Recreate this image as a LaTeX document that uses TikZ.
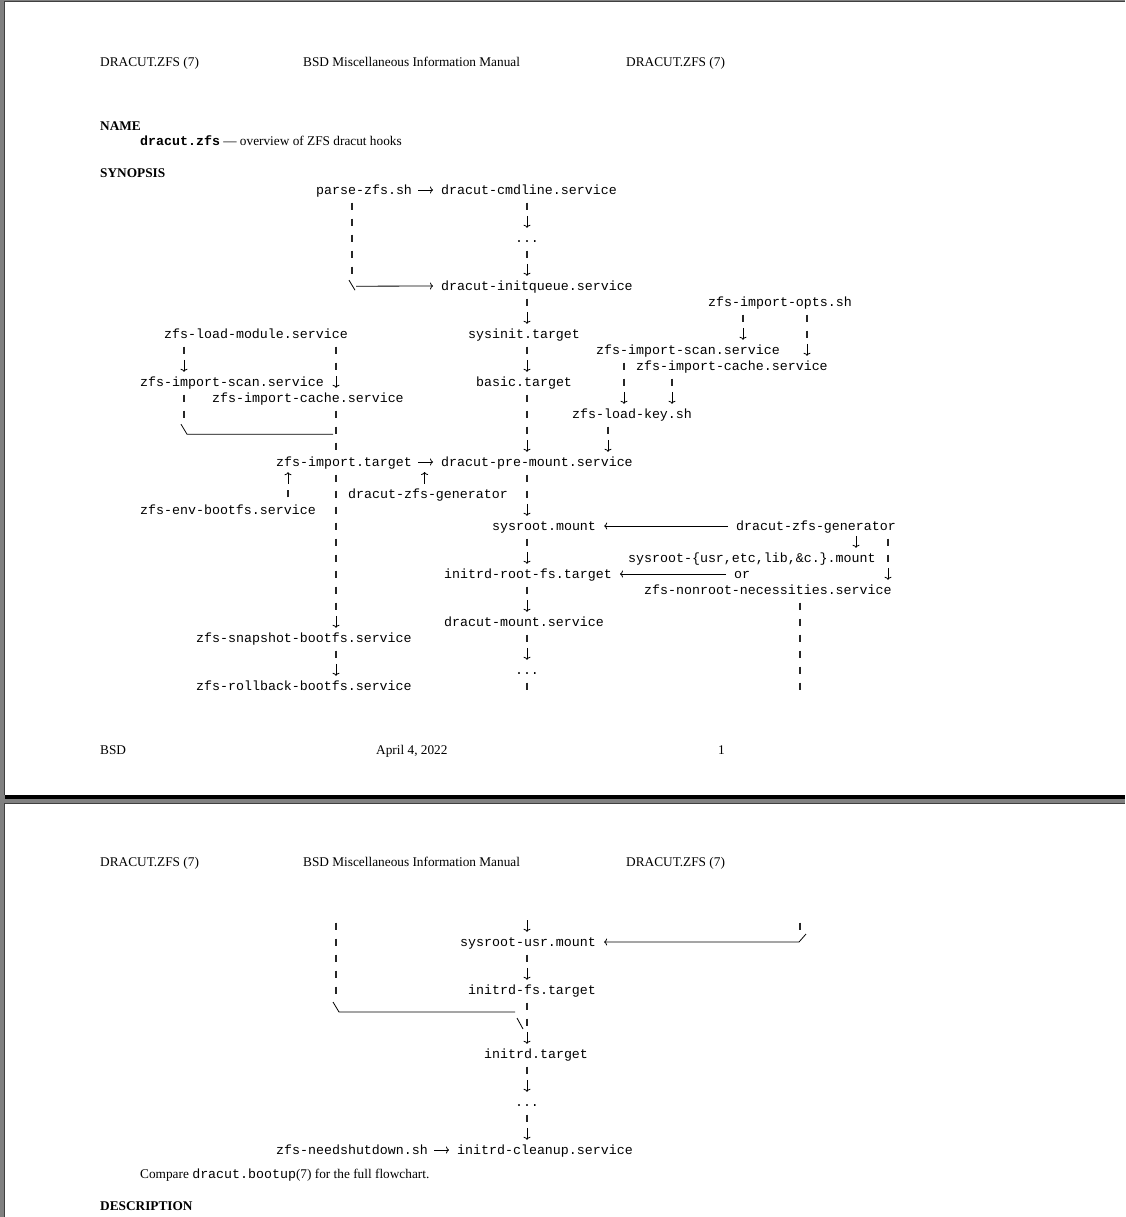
\documentclass[tikz,border=0pt]{standalone}
\usepackage{fontspec}
\setmainfont{Liberation Serif}
\setmonofont{Liberation Mono}
\usetikzlibrary{arrows.meta,calc}

\newcommand\monof{\fontsize{13.3}{16}\selectfont\ttfamily}
\newcommand\serf{\fontsize{13.3}{16}\selectfont}
%% bars down a column, then the arrow into the next label
\newcommand\vlink[3]{%
  \draw[bars] (#2.south -| #1) -- ($(#3.north -| #1)+(0,-16)$);
  \draw[gtip] ($(#3.north -| #1)+(0,-14)$) -- ($(#3.north -| #1)+(0,-2)$);}
\newcommand\vbar[3]{\draw[bars] (#2.south -| #1) -- (#3.north -| #1);}
\newcommand\uplink[3]{%
  \draw[bars] (#2.north -| #1) -- ($(#3.south -| #1)+(0,16)$);
  \draw[gtip] ($(#3.south -| #1)+(0,14)$) -- ($(#3.south -| #1)+(0,2)$);}

\begin{document}
\begin{tikzpicture}[x=1pt,y=-1pt,line cap=butt,
    lbl/.style={font=\monof,inner sep=0pt,text height=12pt,text depth=4pt,anchor=west},
    txt/.style={font=\serf,inner sep=0pt,anchor=base west},
    bars/.style={line width=1.1pt,black!85,dash pattern=on 7pt off 9pt,dash phase=11.5pt},
    gtip/.style={line width=0.8pt,-{Computer Modern Rightarrow[length=3pt,width=7pt]}},
    harrow/.style={gtip,shorten >=8pt},
    glyph/.style={line width=0.8pt}]
  \useasboundingbox (0,0) rectangle (1125,1217);
  %% the two pages
  \fill[black!50] (0,0) rectangle (1125,1217);
  \fill[black!75] (4,1) rectangle (1125,795);
  \fill[white] (5,2) rectangle (1125,795);
  \fill[black] (5,795) rectangle (1125,799);
  \fill[black!75] (4,803) rectangle (1125,1217);
  \fill[white] (5,804) rectangle (1125,1217);

  %% head and foot of page 1
  \node[txt] (hdrL) at (100,66.5) {DRACUT.ZFS (7)};
  \node[txt] (hdrC) at (303,66.5) {BSD Miscellaneous Information Manual};
  \node[txt] (hdrR) at (626,66.5) {DRACUT.ZFS (7)};
  \node[txt,font=\serf\bfseries] (name) at (100,130.5) {NAME};
  \node[txt] (namedesc) at (140,146) {{\ttfamily\bfseries dracut.zfs} — overview of ZFS dracut hooks};
  \node[txt,font=\serf\bfseries] (synop) at (100,177.5) {SYNOPSIS};
  \node[txt] (footL) at (100,754.5) {BSD};
  \node[txt] (footC) at (376,754.5) {April 4, 2022};
  \node[txt] (footR) at (718,754.5) {1};

  %% columns
  \coordinate (cM) at (527,0);
  \coordinate (cP) at (352,0);
  \coordinate (cL) at (184,0);
  \coordinate (cJ) at (336,0);
  \coordinate (cE) at (288,0);
  \coordinate (cOa) at (743,0);
  \coordinate (cOb) at (807,0);
  \coordinate (cS) at (624,0);
  \coordinate (cC) at (672,0);
  \coordinate (cK) at (608,0);
  \coordinate (cDa) at (856,0);
  \coordinate (cDb) at (888,0);
  \coordinate (cN) at (800,0);

  %% labels, page 1
  \node[lbl] (parse) at (316,190) {parse-zfs.sh};
  \node[lbl] (cmdline) at (441,190) {dracut-cmdline.service};
  \node[lbl,anchor=center] (dotsA) at (527,238) {...};
  \node[lbl] (initq) at (441,286) {dracut-initqueue.service};
  \node[lbl] (opts) at (708,302) {zfs-import-opts.sh};
  \node[lbl] (loadmod) at (164,334) {zfs-load-module.service};
  \node[lbl] (sysinit) at (468,334) {sysinit.target};
  \node[lbl] (scanR) at (596,350) {zfs-import-scan.service};
  \node[lbl] (cacheR) at (636,366) {zfs-import-cache.service};
  \node[lbl] (scanL) at (140,382) {zfs-import-scan.service};
  \node[lbl] (basic) at (476,382) {basic.target};
  \node[lbl] (cacheL) at (212,398) {zfs-import-cache.service};
  \node[lbl] (loadkey) at (572,414) {zfs-load-key.sh};
  \node[lbl] (zimport) at (276,462) {zfs-import.target};
  \node[lbl] (premount) at (441,462) {dracut-pre-mount.service};
  \node[lbl] (genL) at (348,494) {dracut-zfs-generator};
  \node[lbl] (envboot) at (140,510) {zfs-env-bootfs.service};
  \node[lbl] (sysroot) at (492,526) {sysroot.mount};
  \node[lbl] (genR) at (736,526) {dracut-zfs-generator};
  \node[lbl] (sysrootX) at (628,558) {sysroot-\{usr,etc,lib,\&c.\}.mount};
  \node[lbl] (rootfs) at (444,574) {initrd-root-fs.target};
  \node[lbl] (orw) at (734,574) {or};
  \node[lbl] (nonroot) at (644,590) {zfs-nonroot-necessities.service};
  \node[lbl] (dmount) at (444,622) {dracut-mount.service};
  \node[lbl] (snap) at (196,638) {zfs-snapshot-bootfs.service};
  \node[lbl,anchor=center] (dotsB) at (527,670) {...};
  \node[lbl] (rollback) at (196,686) {zfs-rollback-bootfs.service};

  %% main column
  \draw[harrow,shorten <=6pt] (parse.east) -- (cmdline.west);
  \vlink{cM}{cmdline}{dotsA}
  \vlink{cM}{dotsA}{initq}
  \vlink{cM}{initq}{sysinit}
  \vlink{cM}{sysinit}{basic}
  \vlink{cM}{basic}{premount}
  \vlink{cM}{premount}{sysroot}
  \vlink{cM}{sysroot}{rootfs}
  \vlink{cM}{rootfs}{dmount}
  \vlink{cM}{dmount}{dotsB}
  \draw[bars] (dotsB.south -| cM) -- ++(0,16);
  %% parse-zfs.sh down to the initqueue
  \draw[bars] (parse.south -| cP) -- ++(0,80);
  \draw[glyph] ($(parse.south -| cP)+(-3,82)$) -- ++(6,10);
  \draw[harrow] ($(parse.south -| cP)+(4,88)$) -- (initq.west);

  %% left side
  \vlink{cL}{loadmod}{scanL}
  \vlink{cJ}{loadmod}{cacheL}
  \draw[bars] (scanL.south -| cL) -- ++(0,32);
  \draw[glyph] ($(scanL.south -| cL)+(-3,34)$) -- ++(6,10) -- ($(cacheL.south -| cJ)+(-3,28)$);
  \vbar{cJ}{cacheL}{zimport}
  \draw[harrow,shorten <=6pt] (zimport.east) -- (premount.west);
  \coordinate (imparr) at ($(zimport.east)!.5!(premount.west)$);
  \draw[gtip] ($(genL.north -| imparr)+(-2,-2)$) -- ($(imparr)+(-2,10)$);
  \uplink{cE}{envboot}{zimport}
  \vlink{cJ}{zimport}{snap}
  \vlink{cJ}{snap}{rollback}

  %% right side
  \vlink{cOa}{opts}{scanR}
  \vlink{cOb}{opts}{cacheR}
  \vlink{cS}{scanR}{loadkey}
  \vlink{cC}{cacheR}{loadkey}
  \vlink{cK}{loadkey}{premount}
  \draw[harrow,shorten <=8pt] (genR.west) -- (sysroot.east);
  \vlink{cDa}{genR}{sysrootX}
  \vlink{cDb}{genR}{nonroot}
  \draw[harrow,shorten <=8pt] (orw.west) -- (rootfs.east);
  \draw[bars] (nonroot.south -| cN) -- ++(0,96);

  %% head of page 2
  \node[txt] (hdrLb) at (100,866.5) {DRACUT.ZFS (7)};
  \node[txt] (hdrCb) at (303,866.5) {BSD Miscellaneous Information Manual};
  \node[txt] (hdrRb) at (626,866.5) {DRACUT.ZFS (7)};

  %% labels, page 2
  \coordinate (pL) at (336,918);
  \coordinate (pM) at (527,918);
  \coordinate (pR) at (800,918);
  \node[lbl] (sysrootusr) at (460,942) {sysroot-usr.mount};
  \node[lbl] (initrdfs) at (468,990) {initrd-fs.target};
  \node[lbl] (initrd) at (484,1054) {initrd.target};
  \node[lbl,anchor=center] (dotsC) at (527,1102) {...};
  \node[lbl] (needshut) at (276,1150) {zfs-needshutdown.sh};
  \node[lbl] (cleanup) at (457,1150) {initrd-cleanup.service};

  \draw[gtip] ($(pM)+(0,2)$) -- ($(sysrootusr.north -| cM)+(0,-2)$);
  \vlink{cM}{sysrootusr}{initrdfs}
  \vlink{cM}{initrdfs}{initrd}
  \vlink{cM}{initrd}{dotsC}
  \vlink{cM}{dotsC}{cleanup}
  \draw[harrow,shorten <=6pt] (needshut.east) -- (cleanup.west);
  %% snapshot branch joining initrd.target
  \draw[bars] (pL) -- ++(0,80);
  \draw[glyph] ($(pL)+(-3,84)$) -- ++(6,10) -- ++(176,0);
  \draw[glyph] ($(pL)+(181,100)$) -- ++(6,11);
  %% nonroot branch into sysroot-usr.mount
  \draw[bars] (pR) -- ++(0,16);
  \draw[harrow] ($(pR)+(6,16)$) -- ($(pR)+(-1,24)$) -- (sysrootusr.east);

  \node[txt] (compare) at (140,1178) {Compare {\ttfamily dracut.bootup}(7) for the full flowchart.};
  \node[txt,font=\serf\bfseries] (descr) at (100,1210.5) {DESCRIPTION};
\end{tikzpicture}
\end{document}
